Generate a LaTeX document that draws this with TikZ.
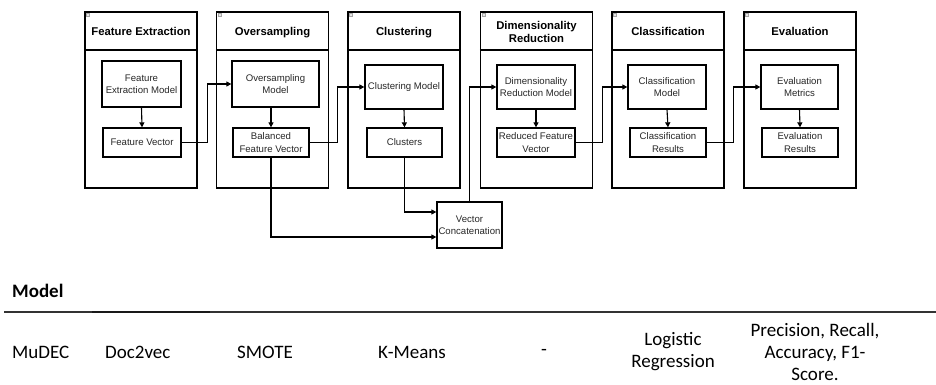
\documentclass[tikz,border=0pt]{standalone}
\usepackage{fontspec}
\setmainfont{Liberation Sans}
\newfontfamily\tablefont{Carlito}
\usetikzlibrary{arrows.meta}
\begin{document}
\begin{tikzpicture}[x=1pt,y=-1pt,
  panel/.style={draw=black,line width=1.4pt,minimum width=112pt,minimum height=176pt,inner sep=0pt},
  title/.style={font=\fontsize{11.3}{13.5}\selectfont\bfseries,align=center,inner sep=0pt},
  box/.style={draw=black,line width=1.3pt,inner sep=0pt,align=center,
    font=\fontsize{9.6}{12.5}\selectfont,text=black!85},
  conn/.style={draw=black,line width=1.1pt,-{Triangle[length=5pt,width=5pt]}},
  icon/.style={draw=black!35,fill=black!10,line width=0.4pt,minimum size=3pt,inner sep=0pt},
  cell/.style={font=\tablefont\fontsize{19}{22}\selectfont,inner sep=0pt,align=center}]
\useasboundingbox (0,0) rectangle (936,385);

% stage panels with a header strip
\foreach \n/\cx in {p1/141,p2/272.5,p3/404,p4/536.5,p5/668,p6/800}{
  \node[panel] (\n) at (\cx,100) {};
  \draw[line width=1.2pt] (\n.west |- 0,50) -- (\n.east |- 0,50);
  \node[icon] at ([xshift=3.5pt,yshift=-3.5pt]\n.north west) {};
}
\node[title,anchor=base] (t1) at (141,36) {Feature Extraction};
\node[title,anchor=base] (t2) at (272.5,36) {Oversampling};
\node[title,anchor=base] (t3) at (404,36) {Clustering};
\node[title,anchor=base] (t4) at (536.5,43) {Dimensionality\\Reduction};
\node[title,anchor=base] (t5) at (668,36) {Classification};
\node[title,anchor=base] (t6) at (800,36) {Evaluation};

% components
\node[box,minimum width=79pt,minimum height=46pt] (fem) at (141.5,84) {Feature\\Extraction Model};
\node[box,minimum width=78pt,minimum height=29pt] (fv) at (142,142.5) {Feature Vector};
\node[box,minimum width=87pt,minimum height=46pt] (om) at (275.5,84) {Oversampling\\Model};
\node[box,minimum width=76pt,minimum height=29pt] (bfv) at (271,142.5) {Balanced\\Feature Vector};
\node[box,minimum width=78pt,minimum height=44pt] (cm) at (404,87) {Clustering Model};
\node[box,minimum width=75pt,minimum height=29pt] (cl) at (404.5,142.5) {Clusters};
\node[box,minimum width=78pt,minimum height=44pt] (drm) at (536,87) {Dimensionality\\Reduction Model};
\node[box,minimum width=78pt,minimum height=29pt] (rfv) at (536,142.5) {Reduced Feature\\Vector};
\node[box,minimum width=78pt,minimum height=44pt] (clm) at (667,87) {Classification\\Model};
\node[box,minimum width=76pt,minimum height=29pt] (clr) at (668,142.5) {Classification\\Results};
\node[box,minimum width=77pt,minimum height=44pt] (em) at (799.5,87) {Evaluation\\Metrics};
\node[box,minimum width=76pt,minimum height=29pt] (er) at (800,142.5) {Evaluation\\Results};
\node[box,minimum width=65pt,minimum height=46pt] (vc) at (469.5,225) {Vector\\Concatenation};

% flow inside each stage
\draw[conn] (fem.south) -- (fv.north);
\draw[conn] (om.south -| bfv.north) -- (bfv.north);
\draw[conn] (cm.south) -- (cl.north);
\draw[conn] (drm.south) -- (rfv.north);
\draw[conn] (clm.south) -- (clr.north);
\draw[conn] (em.south) -- (er.north);

% flow between stages
\draw[conn] (fv.east) -- ++(26,0) |- (om.west);
\draw[conn] (bfv.east) -- ++(28,0) |- (cm.west);
\draw[conn] (bfv.south) |- ([yshift=-12pt]vc.west);
\draw[conn] (cl.south) |- ([yshift=13pt]vc.west);
\draw[conn] (vc.north) |- (drm.west);
\draw[conn] (rfv.east) -- ++(27,0) |- (clm.west);
\draw[conn] (clr.east) -- ++(27,0) |- (em.west);

% summary table
\node[cell,font=\tablefont\fontsize{19}{22}\selectfont\bfseries,anchor=west] (hdr) at (12,291) {Model};
\coordinate (rl) at (4,312);
\coordinate (rr) at (936,312);
\draw[line width=1.1pt,black!80] (rl) -- (rr);
\draw[line width=1.5pt,black!90] (92,312) -- (210,312);
\node[cell,anchor=west] (c1) at (12,352) {MuDEC};
\node[cell,anchor=west] (c2) at (105,352) {Doc2vec};
\node[cell,anchor=west] (c3) at (237,352) {SMOTE};
\node[cell,anchor=west] (c4) at (378,352) {K-Means};
\node[cell] (c5) at (544,352) {-};
\node[cell] (c6) at (673,351.5) {Logistic\\Regression};
\node[cell] (c7) at (815,351.5) {Precision, Recall,\\Accuracy, F1-\\Score.};
\end{tikzpicture}
\end{document}
